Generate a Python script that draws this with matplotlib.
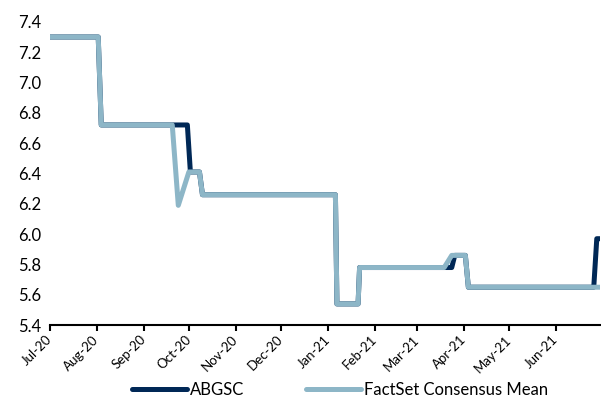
import pandas as pd
import matplotlib
matplotlib.use('Agg')
from matplotlib import pyplot as plt
import matplotlib.dates as mdates

plt.rcParams['font.family'] = ['Lato', 'DejaVu Sans']

# corner points of the two step series (date, EPS estimate)
abgsc_dates = ['2020-07-01', '2020-08-02', '2020-08-04', '2020-09-30', '2020-10-02',
               '2020-10-08', '2020-10-10', '2021-01-06', '2021-01-07', '2021-01-21',
               '2021-01-22', '2021-03-24', '2021-03-26', '2021-04-02', '2021-04-04',
               '2021-06-26', '2021-06-28', '2021-06-30']
abgsc_values = [7.30, 7.30, 6.72, 6.72, 6.41,
                6.41, 6.26, 6.26, 5.54, 5.54,
                5.78, 5.78, 5.86, 5.86, 5.65,
                5.65, 5.97, 5.97]

factset_dates = ['2020-07-01', '2020-08-02', '2020-08-04', '2020-09-20', '2020-09-24',
                 '2020-10-01', '2020-10-08', '2020-10-10', '2021-01-06', '2021-01-07',
                 '2021-01-21', '2021-01-22', '2021-03-19', '2021-03-24', '2021-04-02',
                 '2021-04-04', '2021-06-30']
factset_values = [7.30, 7.30, 6.72, 6.72, 6.19,
                  6.41, 6.41, 6.26, 6.26, 5.54,
                  5.54, 5.78, 5.78, 5.86, 5.86,
                  5.65, 5.65]

y_ticks = [5.4, 5.6, 5.8, 6.0, 6.2, 6.4, 6.6, 6.8, 7.0, 7.2, 7.4]

fig = plt.figure(figsize=(6.01, 3.97), dpi=100)
ax = fig.add_axes([0.083, 0.181, 0.915, 0.764])

ax.plot(pd.to_datetime(abgsc_dates), abgsc_values, color='#002856', lw=3.6,
        solid_joinstyle='round', solid_capstyle='round', label='ABGSC')
ax.plot(pd.to_datetime(factset_dates), factset_values, color='#8DB6C7', lw=3.6,
        solid_joinstyle='round', solid_capstyle='round', label='FactSet Consensus Mean')

ax.set_ylim(5.4, 7.4)
ax.set_yticks(y_ticks)
ax.set_yticklabels([f'{v:.1f}' for v in y_ticks], fontsize=12)
ax.set_xlim(pd.Timestamp('2020-07-01'), pd.Timestamp('2021-06-30'))
ax.xaxis.set_major_locator(mdates.MonthLocator())
ax.xaxis.set_major_formatter(mdates.DateFormatter('%b-%y'))
for lbl in ax.get_xticklabels():
    lbl.set_rotation(45)
    lbl.set_ha('right')
    lbl.set_va('center')
    lbl.set_rotation_mode('anchor')
    lbl.set_fontsize(9.5)

for side in ['top', 'right', 'left']:
    ax.spines[side].set_visible(False)
ax.spines['bottom'].set_linewidth(1.5)
ax.tick_params(axis='y', length=0, pad=6)
ax.tick_params(axis='x', length=4, width=1.5, direction='out', pad=5)

fig.legend(loc='center', bbox_to_anchor=(0.566, 0.018), ncol=2, frameon=False,
           fontsize=12, handlelength=3.3, handletextpad=0.2, columnspacing=3.7)

fig.savefig('out.png', dpi=100)
plt.close()
